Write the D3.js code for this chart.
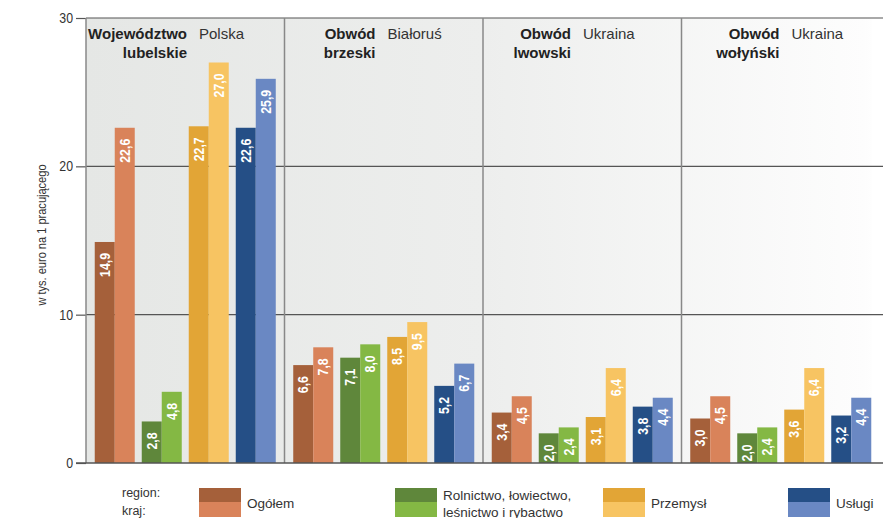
<!DOCTYPE html>
<html><head><meta charset="utf-8">
<script src="https://cdn.jsdelivr.net/npm/d3@7"></script>
<style>
html,body{margin:0;padding:0;background:#fff;}
svg{display:block;font-family:"Liberation Sans",Arial,sans-serif;}
</style></head>
<body>
<svg id="chart" width="884" height="518"></svg>
<script>
// ---- data ----
const regions = ["lubelskie", "brzeski", "lwowski", "wolynski"];
const regionLine1 = ["Województwo", "Obwód", "Obwód", "Obwód"];
const regionLine2 = ["lubelskie", "brzeski", "lwowski", "wołyński"];
const countries = ["Polska", "Białoruś", "Ukraina", "Ukraina"];
const sectors = ["Ogółem", "Rolnictwo", "Przemysł", "Usługi"];
const sectorLabels = [["Ogółem"], ["Rolnictwo, łowiectwo,", "leśnictwo i rybactwo"], ["Przemysł"], ["Usługi"]];
// values per region for each sector
const valuesRegion = [
  [14.9, 2.8, 22.7, 22.6],
  [6.6, 7.1, 8.5, 5.2],
  [3.4, 2.0, 3.1, 3.8],
  [3.0, 2.0, 3.6, 3.2]
];
const valuesCountry = [
  [22.6, 4.8, 27.0, 25.9],
  [7.8, 8.0, 9.5, 6.7],
  [4.5, 2.4, 6.4, 4.4],
  [4.5, 2.4, 6.4, 4.4]
];
const yTicks = [0, 10, 20, 30];
const yTitle = "w tys. euro na 1 pracującego";

// ---- styles / layout ----
const colRegion = ["#a5603a", "#5f873b", "#e2a536", "#254f86"];
const colCountry = ["#d9835a", "#84b844", "#f7c462", "#6a88c3"];
const headerGap = [107, 97, 94, 104];
const legendX = [199, 395, 603, 788];

const svg = d3.select("#chart");
const plotL = 86, plotR = 880, plotT = 18, plotB = 463;

const x0 = d3.scaleBand().domain(regions).range([plotL, plotR]).padding(0);
const x1 = d3.scaleBand().domain(sectors).range([0, x0.bandwidth()]).paddingInner(0.149).paddingOuter(0.186);
const x2 = d3.scaleBand().domain(["region", "kraj"]).range([0, x1.bandwidth()]);
const y = d3.scaleLinear().domain([0, 30]).range([plotB, plotT]);

// background gradient
const defs = svg.append("defs");
const grad = defs.append("linearGradient").attr("id", "bg").attr("gradientUnits", "userSpaceOnUse")
  .attr("x1", plotL).attr("x2", plotR).attr("y1", 0).attr("y2", 0);
grad.append("stop").attr("offset", "0%").attr("stop-color", "#e5e7e5");
grad.append("stop").attr("offset", "50%").attr("stop-color", "#edeeed");
grad.append("stop").attr("offset", "98%").attr("stop-color", "#fdfdfd");
grad.append("stop").attr("offset", "100%").attr("stop-color", "#ffffff");
svg.append("rect").attr("x", plotL).attr("y", plotT).attr("width", plotR - plotL - 8).attr("height", plotB - plotT)
  .attr("fill", "url(#bg)");

// gridlines + ticks
const yAxis = d3.axisLeft(y).tickValues(yTicks).tickSize(10).tickPadding(3).tickFormat(d3.format("d"));
const gAxis = svg.append("g").attr("transform", `translate(${plotL},0)`).call(yAxis);
gAxis.select(".domain").remove();
gAxis.selectAll(".tick line").attr("stroke", "#555").attr("stroke-width", 1.2);
gAxis.selectAll(".tick text").attr("font-size", 14.5).attr("fill", "#333")
  .attr("font-family", "Liberation Sans, Arial, sans-serif")
  .attr("x", 0).attr("transform", "translate(-13,0) scale(0.85,1)");
svg.append("g").selectAll("line").data(yTicks.filter(d => d > 0)).join("line")
  .attr("x1", plotL).attr("x2", 883).attr("y1", d => y(d)).attr("y2", d => y(d))
  .attr("stroke", "#555").attr("stroke-width", 1.2);

// panel separators
svg.append("g").selectAll("line").data(regions).join("line")
  .attr("x1", d => x0(d)).attr("x2", d => x0(d)).attr("y1", plotT).attr("y2", plotB)
  .attr("stroke", "#888").attr("stroke-width", 1.5);

// bars
const panels = svg.append("g").selectAll("g").data(regions).join("g")
  .attr("transform", d => `translate(${x0(d)},0)`);
panels.each(function(reg, ri) {
  const g = d3.select(this);
  sectors.forEach((s, si) => {
    const pair = [
      {k: "region", v: valuesRegion[ri][si], c: colRegion[si]},
      {k: "kraj", v: valuesCountry[ri][si], c: colCountry[si]}
    ];
    const gg = g.append("g").attr("transform", `translate(${x1(s)},0)`);
    gg.selectAll("rect").data(pair).join("rect")
      .attr("x", d => x2(d.k)).attr("width", x2.bandwidth())
      .attr("y", d => y(d.v)).attr("height", d => y(0) - y(d.v))
      .attr("fill", d => d.c);
    gg.selectAll("text").data(pair).join("text")
      .attr("transform", d => `translate(${x2(d.k) + x2.bandwidth() / 2 + 5},${y(d.v) + 11}) rotate(-90) scale(0.85,1)`)
      .attr("text-anchor", "end")
      .attr("font-size", 14.5).attr("font-weight", "bold").attr("fill", "#fff")
      .text(d => d3.format(".1f")(d.v).replace(".", ","));
  });
  // headers
  const gx = headerGap[ri];
  g.append("text").attr("x", gx - 6).attr("y", 39).attr("text-anchor", "end")
    .attr("font-size", 15).attr("font-weight", "bold").attr("fill", "#222").text(regionLine1[ri]);
  g.append("text").attr("x", gx - 6).attr("y", 58).attr("text-anchor", "end")
    .attr("font-size", 15).attr("font-weight", "bold").attr("fill", "#222").text(regionLine2[ri]);
  g.append("text").attr("x", gx + 6).attr("y", 39).attr("text-anchor", "start")
    .attr("font-size", 15).attr("fill", "#333").text(countries[ri]);
});

// baseline
svg.append("line").attr("x1", plotL - 10).attr("x2", 883).attr("y1", plotB).attr("y2", plotB)
  .attr("stroke", "#555").attr("stroke-width", 1.5);

// y title
svg.append("text").attr("transform", `translate(46,235) rotate(-90) scale(0.85,1)`).attr("text-anchor", "middle")
  .attr("font-size", 13).attr("fill", "#333").text(yTitle);

// legend
svg.append("text").attr("x", 122).attr("y", 497).attr("font-size", 12.5).attr("fill", "#333").text("region:");
svg.append("text").attr("x", 122).attr("y", 515).attr("font-size", 12.5).attr("fill", "#333").text("kraj:");
const lg = svg.append("g").selectAll("g").data(sectors).join("g")
  .attr("transform", (d, i) => `translate(${legendX[i]},488)`);
lg.append("rect").attr("width", 42).attr("height", 14).attr("fill", (d, i) => colRegion[i]);
lg.append("rect").attr("y", 14).attr("width", 42).attr("height", 15).attr("fill", (d, i) => colCountry[i]);
lg.each(function(d, i) {
  const lines = sectorLabels[i];
  const t = d3.select(this).append("text").attr("x", 48).attr("font-size", 13.5).attr("fill", "#333");
  if (lines.length === 1) {
    t.attr("y", 19.5).text(lines[0]);
  } else {
    lines.forEach((l, li) => t.append("tspan").attr("x", 48).attr("y", 11.5 + li * 17).text(l));
  }
});
</script>
</body></html>
